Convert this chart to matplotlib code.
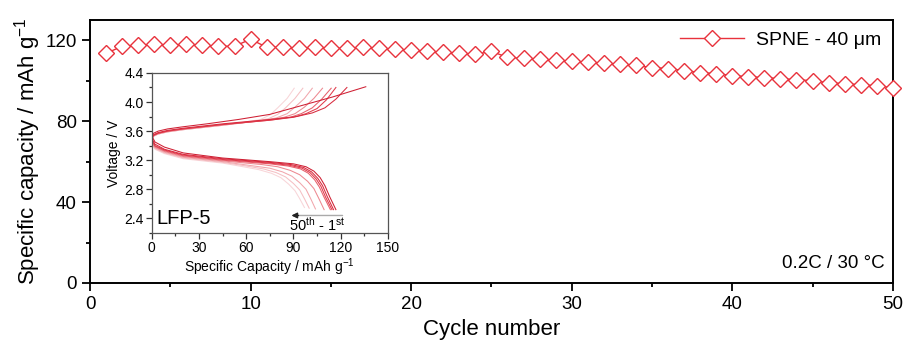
import matplotlib
matplotlib.use("Agg")
import matplotlib.pyplot as plt
from matplotlib.ticker import MultipleLocator

plt.rcParams['font.family'] = ['Liberation Sans', 'DejaVu Sans']
plt.rcParams['mathtext.default'] = 'regular'

# main plot data
cycles = list(range(1, 51))
capacity = [113.5, 117.0, 117.5, 118.0, 117.5, 118.0, 117.5, 117.0, 117.0, 120.5,
            116.5, 116.5, 116.0, 116.5, 116.0, 116.0, 116.5, 116.0, 115.5, 115.0,
            114.5, 114.0, 113.5, 113.0, 114.5, 111.5, 111.0, 110.5, 110.0, 109.5,
            109.0, 108.5, 108.0, 107.5, 106.5, 106.0, 105.0, 104.0, 103.5, 102.5,
            102.0, 101.5, 101.0, 100.5, 100.0, 99.0, 98.5, 98.0, 97.5, 96.5]

# inset: voltage profiles, 1st cycle first
inset_cycles = [1, 2, 5, 10, 20, 30, 40, 50]
charge_cap = [
    [0, 1, 4, 10, 20, 35, 55, 75, 95, 115, 136],
    [0, 1, 4, 10, 20, 45, 75, 92, 102, 110, 117, 124],
    [0, 1, 4, 10, 20, 45, 75, 90, 98, 105, 111, 117],
    [0, 1, 4, 10, 20, 45, 75, 88, 95, 102, 108, 114],
    [0, 1, 4, 10, 20, 45, 72, 84, 91, 97, 103, 108.5],
    [0, 1, 4, 10, 20, 45, 68, 79, 86, 91, 97, 102],
    [0, 1, 4, 10, 20, 45, 63, 74, 80, 85, 91, 96],
    [0, 1, 4, 10, 20, 45, 58, 69, 75, 80, 86, 90.5],
]
charge_v = [
    [3.53, 3.57, 3.60, 3.63, 3.66, 3.70, 3.76, 3.83, 3.95, 4.07, 4.21],
    [3.51, 3.55, 3.58, 3.61, 3.64, 3.70, 3.76, 3.80, 3.85, 3.92, 4.04, 4.20],
    [3.50, 3.54, 3.57, 3.60, 3.63, 3.69, 3.75, 3.79, 3.84, 3.91, 4.03, 4.20],
    [3.49, 3.54, 3.57, 3.60, 3.63, 3.69, 3.75, 3.79, 3.84, 3.92, 4.04, 4.19],
    [3.49, 3.54, 3.57, 3.60, 3.63, 3.69, 3.75, 3.79, 3.84, 3.93, 4.05, 4.19],
    [3.48, 3.53, 3.56, 3.59, 3.62, 3.68, 3.74, 3.78, 3.84, 3.93, 4.05, 4.19],
    [3.48, 3.53, 3.56, 3.59, 3.62, 3.68, 3.73, 3.77, 3.83, 3.92, 4.05, 4.19],
    [3.48, 3.53, 3.56, 3.59, 3.62, 3.68, 3.72, 3.76, 3.82, 3.92, 4.05, 4.19],
]
discharge_cap = [
    [0, 2, 8, 20, 45, 75, 90, 98, 103, 107, 110, 113, 117],
    [0, 2, 8, 20, 45, 75, 88.5, 96.5, 101.5, 105.5, 108.5, 111.5, 115.5],
    [0, 2, 8, 20, 45, 75, 87.5, 95.5, 100.5, 104.5, 107.5, 110.5, 114.5],
    [0, 2, 8, 20, 45, 75, 86.5, 94.5, 99.5, 103.5, 106.5, 109.5, 113.5],
    [0, 2, 8, 20, 45, 70, 80, 88, 94, 99, 103, 106, 109.5],
    [0, 2, 8, 20, 45, 65, 75, 83, 89, 94, 98, 101, 104],
    [0, 2, 8, 20, 45, 60, 71, 79, 85, 90, 94, 97, 100],
    [0, 2, 8, 20, 45, 58, 68, 76, 82, 87, 91, 94, 97],
]
discharge_v = [
    [3.53, 3.45, 3.38, 3.30, 3.23, 3.18, 3.15, 3.11, 3.05, 2.96, 2.85, 2.70, 2.52],
    [3.50, 3.42, 3.35, 3.28, 3.22, 3.17, 3.14, 3.10, 3.04, 2.95, 2.85, 2.70, 2.52],
    [3.48, 3.40, 3.34, 3.27, 3.21, 3.16, 3.13, 3.09, 3.03, 2.94, 2.84, 2.69, 2.52],
    [3.47, 3.39, 3.33, 3.26, 3.20, 3.15, 3.12, 3.08, 3.02, 2.93, 2.83, 2.69, 2.52],
    [3.45, 3.38, 3.32, 3.25, 3.19, 3.14, 3.11, 3.06, 3.00, 2.91, 2.81, 2.68, 2.52],
    [3.44, 3.37, 3.31, 3.24, 3.18, 3.12, 3.09, 3.04, 2.98, 2.89, 2.80, 2.67, 2.53],
    [3.43, 3.36, 3.30, 3.23, 3.17, 3.12, 3.08, 3.03, 2.97, 2.88, 2.79, 2.67, 2.54],
    [3.42, 3.35, 3.29, 3.22, 3.16, 3.11, 3.07, 3.02, 2.96, 2.87, 2.78, 2.67, 2.55],
]
inset_colors = ['#cf1f33', '#d82b3e', '#e03a4b', '#e7606b', '#ed8890',
                '#f1a6ac', '#f5c0c4', '#f8d5d8']

red = '#e8323c'

fig = plt.figure(figsize=(9.04, 3.54), dpi=100)
ax = fig.add_axes([0.0996, 0.2006, 0.888, 0.743])

ax.plot(cycles, capacity, color=red, lw=1.0, marker='D', ms=8.4,
        mfc='white', mec=red, mew=1.0, label='SPNE - 40 μm', clip_on=False, zorder=3)
ax.set_xlim(0, 50)
ax.set_ylim(0, 130)
ax.xaxis.set_major_locator(MultipleLocator(10))
ax.xaxis.set_minor_locator(MultipleLocator(5))
ax.yaxis.set_major_locator(MultipleLocator(40))
ax.yaxis.set_minor_locator(MultipleLocator(20))
ax.tick_params(which='both', direction='out', width=1.3, labelsize=13.5)
ax.tick_params(which='major', length=6)
ax.tick_params(which='minor', length=3)
for s in ax.spines.values():
    s.set_linewidth(1.4)
ax.set_xlabel('Cycle number', fontsize=16, labelpad=4)
ax.set_ylabel('Specific capacity / mAh g$^{-1}$', fontsize=16, labelpad=2)
ax.legend(loc='upper right', frameon=False, fontsize=14, handlelength=3.3,
          borderaxespad=0.2, handletextpad=0.6)
ax.text(0.99, 0.04, '0.2C / 30 °C', transform=ax.transAxes, ha='right',
        va='bottom', fontsize=13.5)

# inset
ax_in = fig.add_axes([0.168, 0.342, 0.261, 0.452])
for i in range(len(inset_cycles) - 1, -1, -1):
    ax_in.plot(charge_cap[i], charge_v[i], color=inset_colors[i], lw=0.75)
    ax_in.plot(discharge_cap[i], discharge_v[i], color=inset_colors[i], lw=0.75)
ax_in.set_xlim(0, 150)
ax_in.set_ylim(2.2, 4.4)
ax_in.xaxis.set_major_locator(MultipleLocator(30))
ax_in.xaxis.set_minor_locator(MultipleLocator(15))
ax_in.yaxis.set_major_locator(MultipleLocator(0.4))
ax_in.yaxis.set_minor_locator(MultipleLocator(0.2))
ax_in.tick_params(which='both', direction='out', width=0.9, labelsize=10,
                  color='#333333', pad=2)
ax_in.tick_params(which='major', length=4)
ax_in.tick_params(which='minor', length=2)
for s in ax_in.spines.values():
    s.set_linewidth(0.9)
    s.set_color('#555555')
ax_in.set_xlabel('Specific Capacity / mAh g$^{-1}$', fontsize=10, labelpad=1)
ax_in.set_ylabel('Voltage / V', fontsize=10, labelpad=2)
ax_in.text(3, 2.4, 'LFP-5', fontsize=14.5, ha='left', va='center')
ax_in.annotate('', xy=(87, 2.44), xytext=(123, 2.44),
               arrowprops=dict(arrowstyle='-|>', color='#aaaaaa', lw=1.0,
                               mutation_scale=8))
ax_in.annotate('', xy=(87, 2.44), xytext=(95, 2.44),
               arrowprops=dict(arrowstyle='-|>', color='#222222', lw=1.0,
                               mutation_scale=8))
ax_in.text(105, 2.31, '50$^{th}$ - 1$^{st}$', fontsize=10.5, ha='center',
           va='center')

fig.savefig('out.png', dpi=100)
